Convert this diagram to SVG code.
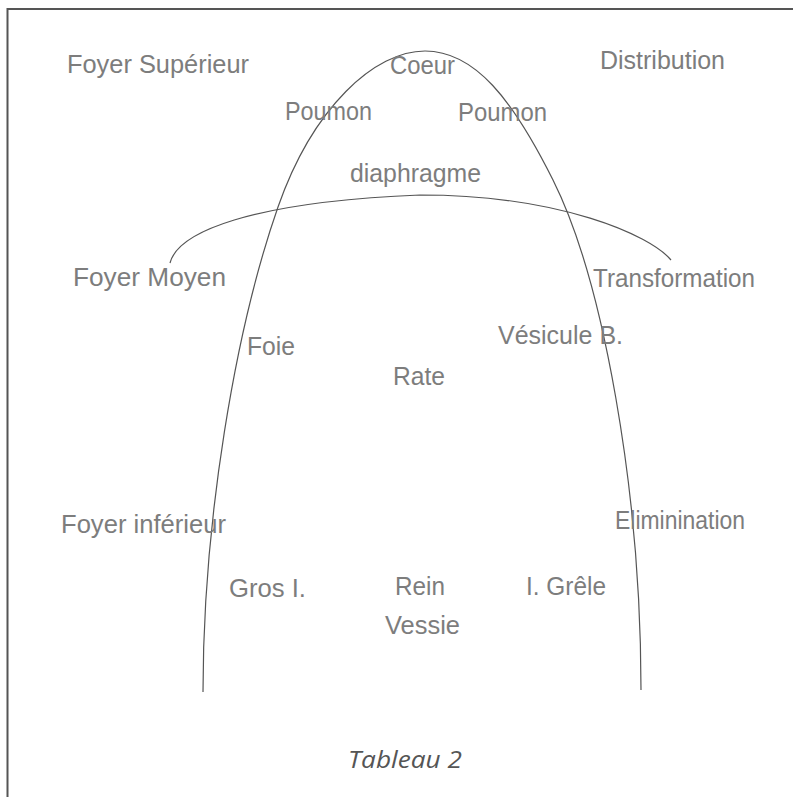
<svg xmlns="http://www.w3.org/2000/svg" width="793" height="797" viewBox="0 0 793 797">
<style>
.lbl{font-family:"Liberation Sans",Arial,sans-serif;font-size:25px;fill:#7d7d7d;}
.cap{font-family:"Open Sans","Liberation Sans",sans-serif;font-size:24px;font-style:italic;fill:#555;}
.curve{fill:none;stroke:#555;stroke-width:1.2;}
.frame{fill:none;stroke:#555;stroke-width:2;}
</style>
<rect width="793" height="797" fill="#ffffff"/>
<path class="frame" d="M7.5,797 L7.5,9 L793,9"/>
<g id="connectors">
<path id="arch" class="curve" d="M203,692 C203,522 235,330 278,207 C313,107 375,51 425,51 C475,51 513,100 553,180 C603,280 641,490 641,690"/>
<path id="diaphragme-line" class="curve" d="M170,263 C178,232 250,202 420,195 C560,195 650,235 671,260"/>
</g>
<g id="foyer-superieur"><text class="lbl" x="67" y="73" textLength="182" lengthAdjust="spacingAndGlyphs">Foyer Supérieur</text></g>
<g id="coeur"><text class="lbl" x="390" y="74" textLength="65" lengthAdjust="spacingAndGlyphs">Coeur</text></g>
<g id="distribution"><text class="lbl" x="600" y="69" textLength="125" lengthAdjust="spacingAndGlyphs">Distribution</text></g>
<g id="poumon-g"><text class="lbl" x="285" y="120" textLength="87" lengthAdjust="spacingAndGlyphs">Poumon</text></g>
<g id="poumon-d"><text class="lbl" x="458" y="121" textLength="89" lengthAdjust="spacingAndGlyphs">Poumon</text></g>
<g id="diaphragme"><text class="lbl" x="350" y="182" textLength="131" lengthAdjust="spacingAndGlyphs">diaphragme</text></g>
<g id="foyer-moyen"><text class="lbl" x="73" y="286" textLength="153" lengthAdjust="spacingAndGlyphs">Foyer Moyen</text></g>
<g id="transformation"><text class="lbl" x="593" y="287" textLength="162" lengthAdjust="spacingAndGlyphs">Transformation</text></g>
<g id="foie"><text class="lbl" x="247" y="355" textLength="48" lengthAdjust="spacingAndGlyphs">Foie</text></g>
<g id="vesicule"><text class="lbl" x="498" y="344" textLength="125" lengthAdjust="spacingAndGlyphs">Vésicule B.</text></g>
<g id="rate"><text class="lbl" x="393" y="385" textLength="52" lengthAdjust="spacingAndGlyphs">Rate</text></g>
<g id="foyer-inferieur"><text class="lbl" x="61" y="533" textLength="165" lengthAdjust="spacingAndGlyphs">Foyer inférieur</text></g>
<g id="elimination"><text class="lbl" x="615" y="529" textLength="130" lengthAdjust="spacingAndGlyphs">Eliminination</text></g>
<g id="gros-i"><text class="lbl" x="229" y="597" textLength="77" lengthAdjust="spacingAndGlyphs">Gros I.</text></g>
<g id="rein"><text class="lbl" x="395" y="595" textLength="50" lengthAdjust="spacingAndGlyphs">Rein</text></g>
<g id="i-grele"><text class="lbl" x="526" y="595" textLength="80" lengthAdjust="spacingAndGlyphs">I. Grêle</text></g>
<g id="vessie"><text class="lbl" x="385" y="634" textLength="75" lengthAdjust="spacingAndGlyphs">Vessie</text></g>
<g id="caption"><text class="cap" x="348" y="768" textLength="114" lengthAdjust="spacingAndGlyphs">Tableau 2</text></g>
</svg>
